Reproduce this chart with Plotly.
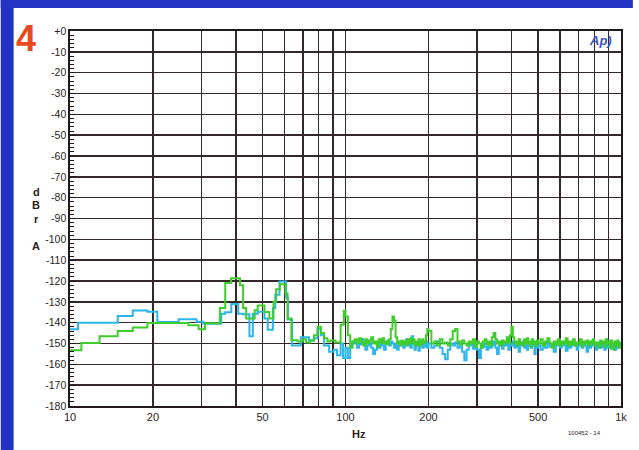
import plotly.graph_objects as go

# ---------------- data ----------------
BLUE_LOW_F = [10, 10.7, 14.9, 16.9, 19.1, 20.75, 24.8, 28.8, 30.5, 35.4, 36.6, 38.5, 40.8, 42.5,
              44.8, 46.1, 48.0, 50.8, 52.2, 54.5, 55.6, 57.6, 60.9, 61.8, 64.0, 68.8, 73.7, 76.9,
              79.2, 81.4, 83.6, 87.2, 90.7, 93.2, 96.0, 98.0]
BLUE_LOW_DB = [-143.2, -140, -136.8, -134.2, -134.8, -139.7, -138.3, -139.5, -140.5, -135.7, -135, -131,
               -135.7, -136, -146.5, -135.7, -134.8, -138, -143.4, -133, -126.6, -120.2, -128, -138.5,
               -151, -147, -148.5, -147.5, -143, -146, -151, -154, -153, -155.6, -150, -157]

GREEN_LOW_F = [10, 11.0, 12.8, 14.9, 16.9, 19.1, 26.9, 29.3, 30.9, 35.0, 36.6, 38.4, 41.4, 42.5,
               43.6, 46.8, 48.0, 50.8, 52.9, 54.8, 56.0, 57.8, 60.5, 61.6, 63.6, 67.0, 70.0, 72.0,
               74.6, 76.9, 79.2, 81.4, 83.6, 86.0, 88.0, 92.0, 96.0, 98.6]
GREEN_LOW_DB = [-153.2, -149.7, -146.5, -144, -142.3, -140.2, -141.2, -143.2, -140.3, -133, -121, -118.7,
                -122, -133, -138, -134, -131.7, -134.9, -138, -130, -124, -121.5, -126, -138, -148.4,
                -149, -148, -149.5, -148.5, -146, -142, -145, -147.5, -149, -148.5, -149.5, -141, -134.3]

HI_F = [100, 102, 104, 106, 108, 110, 112, 114, 116, 118,
        120, 122, 124, 126, 128, 130, 132, 134, 136, 138,
        140, 142, 144, 146, 148, 150, 152, 154, 156, 158,
        160, 162, 164, 166, 168, 170, 172, 174, 176, 178,
        180, 182, 184, 186, 188, 190, 192, 194, 196, 198,
        200, 205, 210, 215, 220, 225, 230, 235, 240, 245,
        250, 255, 260, 265, 270, 275, 280, 285, 290, 295,
        300, 305, 310, 315, 320, 325, 330, 335, 340, 345,
        350, 355, 360, 365, 370, 375, 380, 385, 390, 395,
        400, 405, 410, 415, 420, 425, 430, 435, 440, 445,
        450, 455, 460, 465, 470, 475, 480, 485, 490, 495,
        500, 510, 520, 530, 540, 550, 560, 570, 580, 590,
        600, 610, 620, 630, 640, 650, 660, 670, 680, 690,
        700, 710, 720, 730, 740, 750, 760, 770, 780, 790,
        800, 810, 820, 830, 840, 850, 860, 870, 880, 890,
        900, 910, 920, 930, 940, 950, 960, 970, 980, 990, 1000]

GREEN_HI_DB = [-137, -146, -152, -149, -148, -150, -147.5, -149, -151, -148,
               -150, -148.5, -147, -150, -149, -151.5, -148, -149.5, -147.5, -150,
               -149, -150.5, -148, -143, -137, -139, -147, -150, -149, -151,
               -148.5, -150, -149, -151, -148, -150, -147.5, -149.5, -148, -151,
               -149, -150.5, -148, -151, -149.5, -148, -150, -149, -146, -143,
               -144, -150, -149, -151, -148, -150, -149.5, -151, -148, -144,
               -143, -149, -150.5, -148.5, -150, -151, -149, -150, -148, -151.5,
               -149, -150, -152, -149, -148, -150.5, -149, -151, -147, -145,
               -148, -150, -149, -151, -148.5, -150, -149, -147, -150, -146,
               -142, -147, -150, -149, -151, -148, -150, -149.5, -151, -148,
               -150, -147.5, -150, -149, -151.5, -148, -150, -149, -151, -148.5,
               -150, -148, -151, -149, -147.5, -150, -152, -149, -150.5, -148,
               -151, -149, -150, -147.5, -151, -149, -150.5, -148, -151, -149.5,
               -150, -148, -151.5, -149, -150, -148.5, -151, -149, -150, -148,
               -151, -149.5, -150, -152, -148.5, -150, -149, -151.5, -148, -150,
               -149, -152, -148.5, -150, -153, -149, -151, -148.5, -152, -150, -151]

BLUE_HI_DB = [-152, -157, -151, -149, -150, -152, -150.5, -148, -150, -153,
              -151, -149.5, -152, -155, -153, -150, -152, -149, -151, -153,
              -150, -148.5, -151, -149, -150, -152, -150, -153, -151, -149,
              -150.5, -152, -150, -148, -151, -149, -152, -146.5, -150, -153,
              -151, -150, -153.5, -151, -149, -152, -150, -151.5, -149, -152,
              -150, -152, -151, -149, -152, -155, -157.5, -153, -150, -151,
              -149.5, -152, -150, -154, -158, -153, -151, -150, -152.5, -150,
              -153, -157, -152, -150, -151.5, -153, -150, -152, -151, -149,
              -152, -155, -151, -150, -152.5, -150, -151, -149.5, -153, -150,
              -151, -149, -152, -150, -151.5, -154, -150, -151, -149, -152,
              -150.5, -153, -151, -149.5, -152, -150, -151, -155, -150, -152,
              -151, -153, -150, -152, -149, -151.5, -150, -154, -151, -149.5,
              -152, -150, -151, -153.5, -150, -152, -149, -151, -150, -153,
              -151, -149.5, -152, -150, -151, -154, -150.5, -152, -149, -151,
              -150, -153, -151, -149.5, -152, -150, -151.5, -153, -150, -152,
              -151, -149, -152.5, -150, -151, -153, -150, -152, -151, -149.5, -151]

X_TICKS = [10, 20, 50, 100, 200, 500, 1000]
X_TICK_TEXT = ["10", "20", "50", "100", "200", "500", "1k"]
X_MINOR = [30, 40, 60, 70, 80, 90, 300, 400, 600, 700, 800, 900]
Y_TICKS = [-180, -170, -160, -150, -140, -130, -120, -110, -100, -90, -80, -70, -60, -50, -40, -30, -20, -10, 0]
Y_TICK_TEXT = ["-180", "-170", "-160", "-150", "-140", "-130", "-120", "-110", "-100", "-90", "-80",
               "-70", "-60", "-50", "-40", "-30", "-20", "-10", "+0"]

# ---------------- figure ----------------
W, H = 639, 450
ML, MR, MT, MB = 70, 12, 31, 44
PW, PH = W - ML - MR, H - MT - MB


def px(x):
    return (x - ML) / PW


def py(y):
    return (H - MB - y) / PH


FONT = "Liberation Sans, Arial, sans-serif"
GRID = "#35282a"

fig = go.Figure()
fig.add_trace(go.Scatter(x=BLUE_LOW_F + HI_F, y=BLUE_LOW_DB + BLUE_HI_DB, mode="lines",
                         line=dict(color="#2cb5ea", width=2, shape="hv"), showlegend=False,
                         hoverinfo="skip"))
fig.add_trace(go.Scatter(x=GREEN_LOW_F + HI_F, y=GREEN_LOW_DB + GREEN_HI_DB, mode="lines",
                         line=dict(color="#3fcd2c", width=2, shape="hv"), showlegend=False,
                         hoverinfo="skip"))

fig.update_layout(
    width=W, height=H,
    margin=dict(l=ML, r=MR, t=MT, b=MB, pad=0),
    paper_bgcolor="white", plot_bgcolor="white",
    font=dict(family=FONT, color="#2a2222"),
    xaxis=dict(type="log", range=[1, 3], tickmode="array", tickvals=X_TICKS, ticktext=X_TICK_TEXT,
               showgrid=True, gridcolor=GRID, gridwidth=1.4, showline=True, linecolor="#221a1a",
               linewidth=1.6, mirror=True, ticks="", tickfont=dict(size=11, family=FONT, color="#2a2222"),
               zeroline=False,
               minor=dict(tickmode="array", tickvals=X_MINOR, showgrid=True, gridcolor=GRID,
                          gridwidth=1.4, ticks="")),
    yaxis=dict(range=[-180, 0], tickmode="array", tickvals=Y_TICKS, ticktext=Y_TICK_TEXT,
               showgrid=True, gridcolor=GRID, gridwidth=1.4, showline=True, linecolor="#221a1a",
               linewidth=1.6, mirror=True, ticks="inside", ticklen=6, tickcolor="#221a1a",
               tickfont=dict(size=10.5, family=FONT, color="#2a2222"), zeroline=False,
               minor=dict(dtick=2, tick0=0, ticks="inside", ticklen=4, tickcolor="#221a1a",
                          showgrid=False)),
)

ann = []
ann.append(dict(x=px(26), y=py(38), text="<b>4</b>", font=dict(size=36, color="#e84a1e", family=FONT)))
for letter, yy in [("d", 192), ("B", 205), ("r", 219), ("A", 246)]:
    ann.append(dict(x=px(36), y=py(yy), text="<b>%s</b>" % letter, font=dict(size=11, family=FONT)))
ann.append(dict(x=px(362), y=py(434), text="<b>Hz</b>", font=dict(size=11, family=FONT)))
ann.append(dict(x=px(590), y=py(433), text="100452 - 14", font=dict(size=6, family=FONT)))
ann.append(dict(x=px(606), y=py(40), text="<b><i>Ap)</i></b>", font=dict(size=13, color="#3a55c0", family=FONT)))
for a in ann:
    a.update(xref="paper", yref="paper", showarrow=False, xanchor="center", yanchor="middle")
fig.update_layout(annotations=ann)

# blue frame of the page
fig.update_layout(shapes=[
    dict(type="rect", xref="paper", yref="paper", x0=px(0), x1=px(13), y0=py(450), y1=py(0),
         fillcolor="#2334c4", line=dict(width=0), layer="above"),
    dict(type="rect", xref="paper", yref="paper", x0=px(0), x1=px(639), y0=py(8), y1=py(0),
         fillcolor="#2334c4", line=dict(width=0), layer="above"),
])

fig.write_html("out.html", config={"displayModeBar": False, "staticPlot": True},
               post_script="document.body.style.margin='0';document.body.style.overflow='hidden';")
